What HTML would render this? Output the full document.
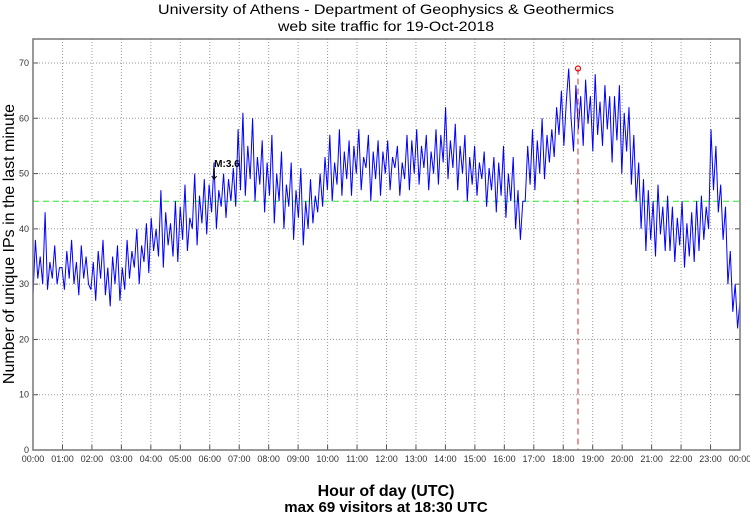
<!DOCTYPE html>
<html><head><meta charset="utf-8"><style>
body{margin:0;background:#fff;}
svg{display:block;font-family:"Liberation Sans",sans-serif;}
</style></head><body>
<svg id="chart" width="750" height="515" viewBox="0 0 750 515" xmlns="http://www.w3.org/2000/svg">
<text x="386" y="14" font-size="14" text-anchor="middle" textLength="456" lengthAdjust="spacingAndGlyphs">University of Athens - Department of Geophysics &amp; Geothermics</text>
<text x="386" y="31" font-size="14" text-anchor="middle" textLength="216" lengthAdjust="spacingAndGlyphs">web site traffic for 19-Oct-2018</text>
<g id="grid"></g>
<g id="series"></g>
<g id="axes"></g>
<text transform="translate(14,244) rotate(-90)" font-size="16" text-anchor="middle">Number of unique IPs in the last minute</text>
<text x="386" y="496" font-size="16" font-weight="bold" text-anchor="middle">Hour of day (UTC)</text>
<text x="386" y="512" font-size="15" font-weight="bold" text-anchor="middle">max 69 visitors at 18:30 UTC</text>
</svg>
<script>
const yTicks=[0,10,20,30,40,50,60,70];
const xTickLabels=["00:00","01:00","02:00","03:00","04:00","05:00","06:00","07:00","08:00","09:00","10:00","11:00","12:00","13:00","14:00","15:00","16:00","17:00","18:00","19:00","20:00","21:00","22:00","23:00","00:00"];
const meanLevel=45;
const maxValue=69, maxHour=18.5;
const markerHour=6.15, markerLabel="M:3.6", markerValue=51;
// values every 5 minutes (hours 0..24)
const traffic=[
28,38,31,35,30,43,29,34,31,37,30,33,
33,29,36,31,38,30,34,28,37,31,35,30,
29,34,27,36,31,38,28,33,26,35,30,37,
27,33,29,38,31,36,33,40,30,37,34,41,
32,42,36,40,35,47,33,43,37,41,35,45,
34,44,38,48,36,42,40,50,37,46,41,49,
39,48,43,52,40,47,44,50,42,49,45,51,
44,58,47,61,46,55,49,60,45,53,48,56,
43,52,46,57,41,50,45,54,40,48,44,52,
38,47,42,51,37,45,40,49,41,46,43,50,
44,53,47,57,45,52,48,58,46,54,49,56,
46,55,50,58,47,53,51,57,45,54,49,56,
46,54,50,56,47,53,51,55,46,52,49,57,
47,56,50,58,48,55,51,57,47,54,50,58,
48,57,52,62,49,56,51,59,47,55,50,57,
45,53,48,55,46,52,49,54,44,51,47,53,
43,52,46,55,42,50,45,53,40,47,38,45,
45,55,48,58,47,56,50,60,49,57,52,58,
53,62,57,65,55,63,69,60,54,66,58,64,
55,67,59,64,54,68,57,63,55,66,58,64,
52,64,56,66,50,61,54,62,48,57,45,52,
40,49,36,47,38,45,35,48,39,44,36,46,
36,44,34,42,37,45,33,41,35,43,34,45,
36,46,38,44,40,58,47,55,43,48,38,44,
30,36,25,30,22,27];
const L=33,R=740,T=39,B=450;
const xs=h=>L+(R-L)*h/24;
const ys=v=>B-(v/70)*(B-63);
const ns="http://www.w3.org/2000/svg";
function mk(p,t,a){const e=document.createElementNS(ns,t);for(const k in a)e.setAttribute(k,a[k]);p.appendChild(e);return e;}
const grid=document.getElementById('grid'),axes=document.getElementById('axes'),series=document.getElementById('series');
xTickLabels.forEach((lab,i)=>{const x=xs(i);
 if(i>0&&i<24){const g=mk(grid,'line',{x1:x,x2:x,y1:T,y2:B,stroke:'#999','stroke-dasharray':'1,2','stroke-width':1});
 
 
 const tk=mk(axes,'line',{x1:x,x2:x,y1:B,y2:B-5,stroke:'#555'});
 
 }
 const t=mk(axes,'text',{x:x,y:B+12,'font-size':9,'text-anchor':'middle',fill:'#333'});t.textContent=lab;
 
 
});
yTicks.forEach(v=>{const y=ys(v);
 if(v>0){const g=mk(grid,'line',{x1:L,x2:R,y1:y,y2:y,stroke:'#999','stroke-dasharray':'1,2'});
 
 
 const tk=mk(axes,'line',{x1:L,x2:L+5,y1:y,y2:y,stroke:'#555'});
 
 
 const tk2=mk(axes,'line',{x1:R,x2:R-5,y1:y,y2:y,stroke:'#555'});
 
 }
 const t=mk(axes,'text',{x:L-4,y:y+3,'font-size':9,'text-anchor':'end',fill:'#333'});t.textContent=v;
 
 
});
const fr=mk(axes,'rect',{x:L,y:T,width:R-L,height:B-T,fill:'none',stroke:'#777','stroke-width':1.5});


const ml=mk(series,'line',{x1:L,x2:R,y1:ys(meanLevel),y2:ys(meanLevel),stroke:'#22ee22','stroke-dasharray':'6,4','stroke-width':1});


const pts=traffic.map((v,i)=>xs(i*24/(traffic.length-1)).toFixed(1)+','+ys(v).toFixed(1)).join(' ');
const pl=mk(series,'polyline',{points:pts,fill:'none',stroke:'#0000ff','stroke-width':1});


const vl=mk(series,'line',{x1:xs(maxHour),x2:xs(maxHour),y1:ys(maxValue),y2:B,stroke:'#cc3333','stroke-dasharray':'6,4'});


const mc=mk(series,'circle',{cx:xs(maxHour),cy:ys(maxValue),r:2.5,fill:'none',stroke:'#ee0000','stroke-width':1.2});


const mx=xs(markerHour),my=ys(markerValue);
const ar=mk(series,'path',{d:`M${mx},${my} v11 M${mx-2.5},${my+8} L${mx},${my+11} L${mx+2.5},${my+8}`,stroke:'#000',fill:'none'});


const mt=mk(series,'text',{x:mx,y:my-1,'font-size':10,'font-weight':'bold'});mt.textContent=markerLabel;


</script>
</body></html>
